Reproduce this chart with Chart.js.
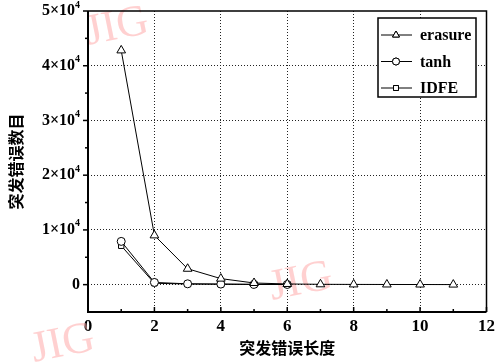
<!DOCTYPE html>
<html lang="zh">
<head>
    <meta charset="UTF-8">
    <title>突发错误数目</title>
    <script src="https://cdn.jsdelivr.net/npm/chart.js@4/dist/chart.umd.min.js"></script>
    <style>
        html, body { margin: 0; padding: 0; background: #fff; }
        canvas { display: block; }
    </style>
</head>
<body>
    <canvas id="burstChart" width="499" height="363"></canvas>

    <script>
        // data
        const burstLen = [1, 2, 3, 4, 5, 6, 7, 8, 9, 10, 11];
        const erasure = [42800, 9000, 2900, 1100, 300, 120, 60, 40, 30, 20, 10];
        const tanh = [7900, 400, 150, 100, 50, 30];
        const idfe = [7100, 250, 120, 80, 40, 20];
        const seriesNames = ['erasure', 'tanh', 'IDFE'];
        const yTicks = [0, 10000, 20000, 30000, 40000, 50000];
        const xTicks = [0, 2, 4, 6, 8, 10, 12];

        const serif = '"Liberation Serif", "Times New Roman", serif';
        const cjk = '"Noto Sans CJK SC", sans-serif';
        const markers = ['triangle', 'circle', 'rect'];
        const radii = [5, 4, 3.8];

        function pts(ys) {
            return ys.map((y, i) => ({ x: burstLen[i], y: y }));
        }

        // pink journal watermarks, frame, minor ticks, y labels, legend
        const decor = {
            id: 'decor',
            beforeDatasetsDraw(chart) {
                const ctx = chart.ctx;
                ctx.save();
                ctx.fillStyle = 'rgba(255,170,170,0.55)';
                ctx.font = '44px ' + serif;
                [[88, 45], [272, 300], [34, 362]].forEach(p => {
                    ctx.save();
                    ctx.translate(p[0], p[1]);
                    ctx.rotate(-0.2);
                    ctx.fillText('JIG', 0, 0);
                    ctx.restore();
                });
                ctx.restore();
            },
            afterDraw(chart) {
                const ctx = chart.ctx;
                const a = chart.chartArea;
                const xs = chart.scales.x, ys = chart.scales.y;
                ctx.save();
                ctx.strokeStyle = '#000';

                // frame
                ctx.lineWidth = 1.5;
                ctx.beginPath();
                ctx.moveTo(a.left, a.top);
                ctx.lineTo(a.right, a.top);
                ctx.lineTo(a.right, a.bottom);
                ctx.stroke();
                ctx.lineWidth = 2;
                ctx.beginPath();
                ctx.moveTo(a.left, a.top);
                ctx.lineTo(a.left, a.bottom);
                ctx.lineTo(a.right, a.bottom);
                ctx.stroke();

                // y ticks (outside) incl. minor
                ctx.lineWidth = 1.5;
                for (let v = 0; v <= 50000; v += 5000) {
                    const y = ys.getPixelForValue(v);
                    const len = v % 10000 === 0 ? 5 : 3;
                    ctx.beginPath();
                    ctx.moveTo(a.left - len, y);
                    ctx.lineTo(a.left, y);
                    ctx.stroke();
                }
                // x ticks (inside) incl. minor
                for (let v = 0; v <= 12; v += 1) {
                    const x = xs.getPixelForValue(v);
                    const len = v % 2 === 0 ? 5 : 3;
                    ctx.beginPath();
                    ctx.moveTo(x, a.bottom);
                    ctx.lineTo(x, a.bottom - len);
                    ctx.stroke();
                }

                // y labels  n×10^4
                ctx.fillStyle = '#000';
                ctx.textBaseline = 'middle';
                yTicks.forEach(v => {
                    const y = ys.getPixelForValue(v);
                    const right = a.left - 8;
                    if (v === 0) {
                        ctx.font = 'bold 16px ' + serif;
                        ctx.textAlign = 'right';
                        ctx.fillText('0', right, y);
                        return;
                    }
                    ctx.font = 'bold 10px ' + serif;
                    const supW = ctx.measureText('4').width;
                    ctx.textAlign = 'right';
                    ctx.fillText('4', right, y - 6);
                    ctx.font = 'bold 16px ' + serif;
                    ctx.fillText((v / 10000) + '×10', right - supW, y);
                });

                // legend box
                const lx = 378, ly = 18, lw = 98, lh = 79;
                ctx.fillStyle = '#fff';
                ctx.fillRect(lx, ly, lw, lh);
                ctx.lineWidth = 1.5;
                ctx.strokeRect(lx, ly, lw, lh);
                ctx.textAlign = 'left';
                ctx.textBaseline = 'middle';
                ctx.font = 'bold 16px ' + serif;
                seriesNames.forEach((name, i) => {
                    const y = 35 + i * 26.5;
                    ctx.lineWidth = 1;
                    ctx.strokeStyle = '#000';
                    ctx.beginPath();
                    ctx.moveTo(381, y);
                    ctx.lineTo(412, y);
                    ctx.stroke();
                    ctx.fillStyle = '#fff';
                    Chart.helpers.drawPoint(ctx, {
                        pointStyle: markers[i], radius: i === 0 ? 4 : 3.5, rotation: 0, borderWidth: 1
                    }, 396, y);
                    ctx.fill();
                    ctx.stroke();
                    ctx.fillStyle = '#000';
                    ctx.fillText(name, 420, y + 1);
                });
                ctx.restore();
            }
        };

        const ctx = document.getElementById('burstChart').getContext('2d');
        new Chart(ctx, {
            type: 'line',
            data: {
                datasets: [erasure, tanh, idfe].map((d, i) => ({
                    label: seriesNames[i],
                    data: pts(d),
                    borderColor: '#000',
                    borderWidth: 1,
                    backgroundColor: '#fff',
                    pointStyle: markers[i],
                    pointRadius: radii[i],
                    pointBorderWidth: 1,
                    pointBorderColor: '#000',
                    pointBackgroundColor: '#fff',
                    tension: 0,
                    fill: false
                }))
            },
            options: {
                responsive: false,
                devicePixelRatio: 1,
                animation: false,
                layout: { padding: { left: 0, top: 11, right: 10, bottom: 0 } },
                plugins: {
                    legend: { display: false },
                    tooltip: { enabled: false }
                },
                scales: {
                    x: {
                        type: 'linear',
                        min: 0,
                        max: 12,
                        afterBuildTicks: s => { s.ticks = xTicks.map(v => ({ value: v })); },
                        afterFit: s => { s.height = 51; },
                        grid: {
                            color: c => (c.tick && (c.tick.value === 0 || c.tick.value === 12)) ? 'rgba(0,0,0,0)' : '#222',
                            lineWidth: 1,
                            drawTicks: false
                        },
                        border: { display: false, dash: [1, 2] },
                        ticks: {
                            color: '#000',
                            padding: 4,
                            maxRotation: 0,
                            font: { family: serif, size: 17, weight: 'bold' }
                        },
                        title: {
                            display: true,
                            text: '突发错误长度',
                            color: '#000',
                            padding: { top: 0, bottom: 5 },
                            font: { family: cjk, size: 16, weight: 'bold' }
                        }
                    },
                    y: {
                        min: -5000,
                        max: 50000,
                        afterBuildTicks: s => { s.ticks = yTicks.map(v => ({ value: v })); },
                        afterFit: s => { s.width = 88; },
                        grid: {
                            color: c => (c.tick && c.tick.value === 50000) ? 'rgba(0,0,0,0)' : '#222',
                            lineWidth: 1,
                            drawTicks: false
                        },
                        border: { display: false, dash: [1, 2] },
                        ticks: { display: false },
                        title: {
                            display: true,
                            text: '突发错误数目',
                            color: '#000',
                            padding: { top: 6, bottom: 0 },
                            font: { family: cjk, size: 16, weight: 'bold' }
                        }
                    }
                }
            },
            plugins: [decor]
        });
    </script>
</body>
</html>
